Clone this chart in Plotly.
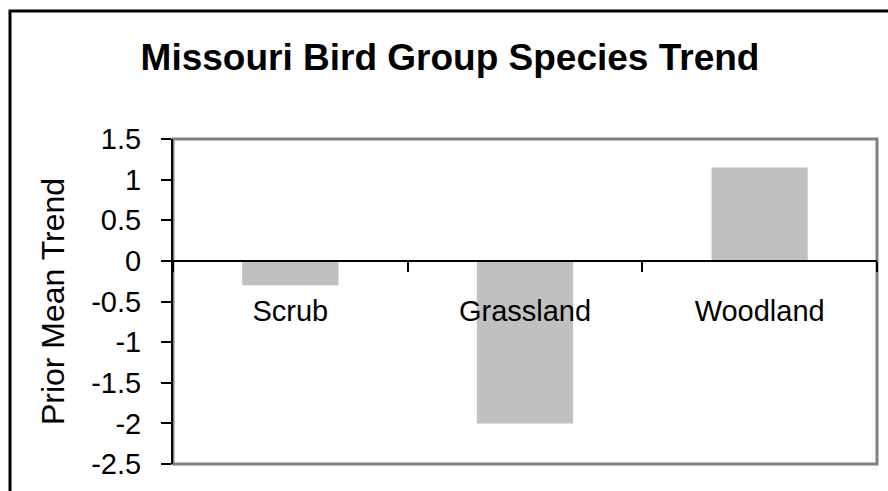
import plotly.graph_objects as go

categories = ["Scrub", "Grassland", "Woodland"]
trend_values = [-0.3, -2.0, 1.15]
y_tick_values = [1.5, 1, 0.5, 0, -0.5, -1, -1.5, -2, -2.5]
y_tick_labels = ["1.5", "1", "0.5", "0", "-0.5", "-1", "-1.5", "-2", "-2.5"]

FONT = "Liberation Sans, Arial, sans-serif"

fig = go.Figure()
fig.add_bar(
    x=categories,
    y=trend_values,
    marker=dict(color="#C0C0C0", line=dict(width=0)),
    width=0.41,
    hoverinfo="skip",
)

L, R, T, B = 173, 11, 139, 27
W, H = 888, 491
pw = W - L - R
ph = H - T - B

fig.update_layout(
    width=W,
    height=H,
    margin=dict(l=L, r=R, t=T, b=B, pad=0),
    paper_bgcolor="white",
    plot_bgcolor="white",
    showlegend=False,
    font=dict(family=FONT, color="black"),
    title=dict(
        text="<b>Missouri Bird Group Species Trend</b>",
        font=dict(size=37, family=FONT, color="black"),
        x=450 / W,
        xref="container",
        xanchor="center",
        y=1 - 57 / H,
        yref="container",
        yanchor="middle",
    ),
    xaxis=dict(
        range=[-0.5, 2.5],
        anchor="free",
        position=2.5 / 4.0,
        side="bottom",
        showline=True,
        linecolor="black",
        linewidth=2,
        ticks="outside",
        tickson="boundaries",
        ticklen=10,
        tickwidth=2,
        tickcolor="black",
        ticklabelstandoff=24,
        tickfont=dict(size=29, family=FONT, color="black"),
        showgrid=False,
        zeroline=False,
        fixedrange=True,
    ),
    yaxis=dict(
        range=[-2.5, 1.5],
        tickvals=y_tick_values,
        ticktext=y_tick_labels,
        showline=True,
        linecolor="black",
        linewidth=2,
        ticks="outside",
        ticklen=10,
        tickwidth=2,
        tickcolor="black",
        ticklabelstandoff=14,
        tickfont=dict(size=29, family=FONT, color="black"),
        showgrid=False,
        zeroline=False,
        title=dict(text="Prior Mean Trend", font=dict(size=32, family=FONT, color="black"), standoff=17),
        fixedrange=True,
    ),
    shapes=[
        # plot area frame (gray)
        dict(type="rect", xref="paper", yref="paper", x0=0, x1=1, y0=0, y1=1,
             line=dict(color="#808080", width=3), layer="below"),
        # outer chart border (black)
        dict(type="rect", xref="paper", yref="paper",
             x0=(10 - L) / pw, x1=(W + 10 - L) / pw,
             y0=-(40) / ph, y1=(H - B - 11) / ph,
             line=dict(color="black", width=3), layer="above"),
    ],
)

fig.write_html(
    "out.html",
    config={"displayModeBar": False, "staticPlot": True},
    post_script="document.body.style.margin='0';",
)
